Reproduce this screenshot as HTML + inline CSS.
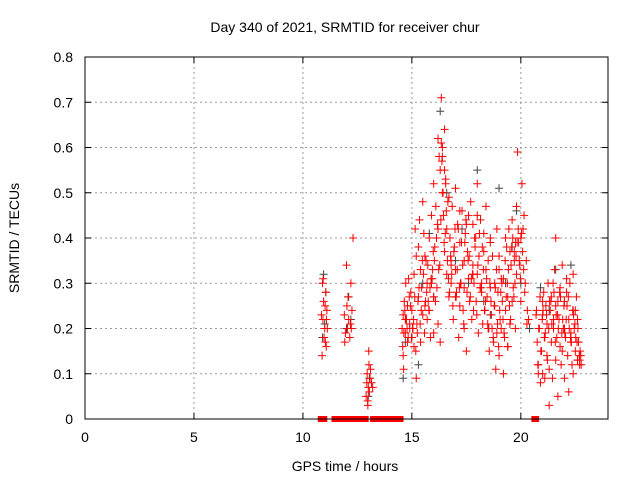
<!DOCTYPE html>
<html><head><meta charset="utf-8"><style>
body{margin:0;background:#fff;}
svg{display:block;font-family:"Liberation Sans",sans-serif;}
</style></head><body>
<svg id="chart" width="640" height="480" viewBox="0 0 640 480">
<rect width="640" height="480" fill="#fff"/>
<text x="345" y="32" font-size="14" text-anchor="middle">Day 340 of 2021, SRMTID for receiver chur</text>
<text x="345" y="471" font-size="14" text-anchor="middle">GPS time / hours</text>
<text transform="translate(19,238) rotate(-90)" font-size="14" text-anchor="middle">SRMTID / TECUs</text>
<g id="grid"></g>
<g id="ticks"></g>
<g id="gray"></g>
<g id="red"></g>
<rect x="85" y="57" width="523" height="362" fill="none" stroke="#000" stroke-width="1"/>
</svg>
<script>
const xTicks=[0,5,10,15,20];
const yTicks=[0,0.1,0.2,0.3,0.4,0.5,0.6,0.7,0.8];
const yTickLabels=["0","0.1","0.2","0.3","0.4","0.5","0.6","0.7","0.8"];
const zeroTimes=[10.82,10.9,10.98,11.45,11.52,11.6,11.68,11.76,11.84,11.92,12.0,12.08,12.16,12.32,12.4,12.48,12.56,12.72,12.8,12.88,13.22,13.3,13.38,13.46,13.54,13.62,13.7,13.78,13.86,14.02,14.1,14.18,14.26,14.34,14.42,14.48,20.62,20.7];
const redTimes=[10.85,10.9,10.92,10.95,10.97,11.0,11.02,11.05,11.07,11.1,11.12,10.88,10.93,11.03,11.08,
11.9,11.95,12.0,12.02,12.05,12.1,12.15,12.2,12.25,12.3,11.92,12.07,12.18,12.22,
12.9,12.93,12.95,12.97,13.0,13.02,13.05,13.08,13.1,13.15,13.2,12.98,13.03,
14.55,14.6,14.6,14.62,14.65,14.7,14.72,14.75,14.8,14.8,14.85,14.9,14.95,15.0,15.0,15.05,15.1,15.1,15.15,15.2,15.25,15.3,15.3,15.35,15.4,15.45,15.5,15.5,15.55,15.6,15.65,15.7,15.7,15.75,15.8,15.85,15.9,15.9,15.95,16.0,16.0,16.05,16.1,16.15,16.2,16.2,16.25,16.3,16.35,16.4,16.4,16.45,16.5,16.5,16.55,16.6,16.6,16.65,16.7,16.75,16.8,16.8,16.85,16.9,16.95,17.0,17.0,17.05,17.1,17.15,17.2,17.2,17.25,17.3,17.35,17.4,17.4,17.45,17.5,17.55,17.6,17.6,17.65,17.7,17.75,17.8,17.8,17.85,17.9,17.95,18.0,18.0,18.05,18.1,18.15,18.2,18.2,18.25,18.3,18.35,18.4,18.4,18.45,18.5,18.55,18.6,18.6,18.65,18.7,18.75,18.8,18.8,18.85,18.9,18.95,19.0,19.0,19.05,19.1,19.15,19.2,19.2,19.25,19.3,19.35,19.4,19.4,19.45,19.5,19.55,19.6,19.6,19.65,19.7,19.75,19.8,19.8,19.85,19.9,19.95,20.0,20.0,20.05,20.1,20.15,20.2,20.25,20.3,20.35,
16.3,16.35,16.4,16.5,16.55,16.7,17.2,17.5,18.3,18.6,19.0,19.3,19.5,19.7,19.75,15.2,15.6,16.0,16.8,17.8,18.0,18.9,19.1,14.7,14.9,15.4,15.8,16.2,17.0,17.4,18.5,19.4,
20.7,20.75,20.8,20.85,20.9,20.95,21.0,21.0,21.05,21.1,21.15,21.2,21.2,21.25,21.3,21.35,21.4,21.4,21.45,21.5,21.55,21.6,21.6,21.65,21.7,21.75,21.8,21.8,21.85,21.9,21.95,22.0,22.0,22.05,22.1,22.15,22.2,22.2,22.25,22.3,22.35,22.4,22.4,22.45,22.5,22.55,22.6,22.6,22.65,22.7,22.75,20.8,21.0,21.3,21.5,21.7,21.9,22.1,22.3,22.5,22.7,21.1,21.6,22.0,22.4,
14.58,14.68,14.78,14.88,14.98,15.08,15.18,15.28,15.38,15.48,15.58,15.68,15.78,15.88,15.98,16.08,16.18,16.28,16.38,16.48,16.58,16.68,16.78,16.88,16.98,17.08,17.18,17.28,17.38,17.48,17.58,17.68,17.78,17.88,17.98,18.08,18.18,18.28,18.38,18.48,18.58,18.68,18.78,18.88,18.98,19.08,19.18,19.28,19.38,19.48,19.58,19.68,19.78,19.88,19.98,20.08,20.18,20.28,
14.63,14.73,14.83,14.93,15.03,15.13,15.23,15.33,15.43,15.53,15.63,15.73,15.83,15.93,16.03,16.13,16.23,16.33,16.43,16.53,16.63,16.73,16.83,16.93,17.03,17.13,17.23,17.33,17.43,17.53,17.63,17.73,17.83,17.93,18.03,18.13,18.23,18.33,18.43,18.53,18.63,18.73,18.83,18.93,19.03,19.13,19.23,19.33,19.43,19.53,19.63,19.73,19.83,19.93,20.03,20.13,
20.72,20.82,20.92,21.02,21.12,21.22,21.32,21.42,21.52,21.62,21.72,21.82,21.92,22.02,22.12,22.22,22.32,22.42,22.52,22.62,22.72,22.77,22.68,22.58,22.48,22.38,22.28,22.18,22.08,21.98,21.88,21.78,21.68,21.58,21.48,21.38,21.28,21.18,21.08,20.98,20.88,20.78];
const redValues=[0.23,0.3,0.22,0.26,0.18,0.2,0.25,0.28,0.16,0.24,0.2,0.14,0.31,0.17,0.22,
0.23,0.19,0.34,0.25,0.2,0.22,0.18,0.3,0.24,0.4,0.17,0.27,0.21,0.2,
0.05,0.08,0.1,0.04,0.07,0.15,0.06,0.09,0.11,0.08,0.07,0.03,0.12,
0.2,0.14,0.23,0.11,0.26,0.19,0.3,0.22,0.17,0.25,0.31,0.21,0.28,0.18,0.24,0.2,0.32,0.16,0.42,0.09,0.19,0.38,0.27,0.44,0.33,0.29,0.23,0.48,0.41,0.36,0.35,0.22,0.3,0.26,0.4,0.18,0.45,0.3,0.33,0.19,0.52,0.38,0.47,0.29,0.62,0.42,0.58,0.55,0.71,0.6,0.5,0.45,0.64,0.37,0.53,0.42,0.32,0.48,0.27,0.4,0.35,0.3,0.47,0.22,0.38,0.51,0.33,0.28,0.43,0.18,0.39,0.25,0.3,0.46,0.24,0.2,0.35,0.41,0.15,0.37,0.31,0.45,0.26,0.48,0.22,0.34,0.43,0.3,0.38,0.26,0.52,0.32,0.19,0.41,0.44,0.28,0.3,0.21,0.37,0.24,0.33,0.47,0.27,0.35,0.15,0.4,0.29,0.23,0.36,0.17,0.3,0.25,0.11,0.19,0.28,0.14,0.33,0.22,0.2,0.26,0.1,0.31,0.18,0.24,0.38,0.27,0.16,0.42,0.21,0.34,0.26,0.44,0.29,0.37,0.2,0.47,0.32,0.59,0.39,0.34,0.4,0.26,0.52,0.42,0.45,0.3,0.35,0.24,0.22,0.17,
0.61,0.58,0.55,0.52,0.49,0.46,0.43,0.41,0.39,0.36,0.4,0.37,0.35,0.39,0.36,0.25,0.27,0.34,0.32,0.45,0.42,0.31,0.22,0.2,0.17,0.24,0.21,0.27,0.29,0.2,0.16,0.23,
0.17,0.12,0.2,0.08,0.15,0.23,0.1,0.28,0.18,0.25,0.14,0.21,0.3,0.11,0.24,0.17,0.27,0.09,0.2,0.33,0.13,0.25,0.18,0.05,0.22,0.29,0.16,0.12,0.34,0.2,0.26,0.09,0.18,0.28,0.14,0.22,0.06,0.3,0.17,0.12,0.24,0.1,0.2,0.15,0.27,0.13,0.22,0.17,0.12,0.14,0.1,0.26,0.03,0.22,0.26,0.15,0.31,0.19,0.24,0.13,0.09,0.4,0.2,0.32,0.16,
0.24,0.2,0.27,0.18,0.22,0.15,0.26,0.21,0.35,0.19,0.28,0.24,0.31,0.37,0.26,0.43,0.34,0.57,0.39,0.46,0.31,0.36,0.25,0.42,0.33,0.29,0.39,0.21,0.44,0.35,0.27,0.32,0.4,0.23,0.36,0.29,0.33,0.26,0.21,0.3,0.2,0.25,0.33,0.16,0.28,0.22,0.35,0.3,0.25,0.38,0.27,0.36,0.42,0.31,0.37,0.28,0.21,0.19,
0.22,0.18,0.25,0.2,0.27,0.21,0.29,0.24,0.32,0.26,0.34,0.29,0.31,0.35,0.4,0.33,0.44,0.5,0.41,0.35,0.28,0.32,0.37,0.27,0.42,0.3,0.34,0.39,0.28,0.36,0.31,0.24,0.4,0.34,0.29,0.38,0.24,0.31,0.2,0.26,0.18,0.29,0.21,0.24,0.3,0.19,0.27,0.33,0.22,0.4,0.3,0.39,0.35,0.41,0.33,0.24,
0.2,0.15,0.24,0.19,0.13,0.26,0.21,0.28,0.23,0.2,0.27,0.22,0.19,0.25,0.2,0.17,0.23,0.18,0.2,0.15,0.12,0.14,0.17,0.21,0.24,0.18,0.27,0.22,0.25,0.19,0.28,0.23,0.17,0.3,0.26,0.2,0.23,0.18,0.22,0.27,0.12,0.25];
const grayTimes=[10.9,10.95,11.0,11.05,12.0,12.1,12.2,13.0,13.05,14.6,14.7,15.0,15.3,15.5,15.8,16.0,16.3,16.6,17.0,17.3,17.6,18.0,18.3,18.6,19.0,19.3,19.6,19.8,20.0,20.4,20.9,21.3,21.6,22.0,22.3,22.6];
const grayValues=[0.18,0.32,0.21,0.28,0.2,0.27,0.22,0.05,0.09,0.09,0.17,0.18,0.12,0.3,0.41,0.27,0.68,0.5,0.35,0.42,0.3,0.55,0.26,0.23,0.51,0.3,0.38,0.46,0.3,0.2,0.29,0.24,0.33,0.2,0.34,0.13];

const X0=85,X1=608,Y0=419,Y1=57;
const xs=t=>X0+t*(X1-X0)/24;
const ys=v=>Y0-v*(Y0-Y1)/0.8;
const NS="http://www.w3.org/2000/svg";
function mk(tag,attrs,parent){const e=document.createElementNS(NS,tag);for(const k in attrs)e.setAttribute(k,attrs[k]);parent.appendChild(e);return e;}
const grid=document.getElementById('grid'),ticks=document.getElementById('ticks');
xTicks.forEach(t=>{
  if(t>0){const g=mk('line',{x1:xs(t),x2:xs(t),y1:Y0,y2:Y1,stroke:'#999','stroke-dasharray':'2,3'},grid);
  
  }
  mk('line',{x1:xs(t),x2:xs(t),y1:Y0,y2:Y0-6,stroke:'#000'},ticks);
  mk('line',{x1:xs(t),x2:xs(t),y1:Y1,y2:Y1+6,stroke:'#000'},ticks);
  const l=mk('text',{x:xs(t),y:Y0+23,'font-size':14,'text-anchor':'middle'},ticks);l.textContent=t;
  
  
});
yTicks.forEach((v,i)=>{
  if(v>0&&v<0.8){const g=mk('line',{x1:X0,x2:X1,y1:ys(v),y2:ys(v),stroke:'#999','stroke-dasharray':'2,3'},grid);
  
  }
  mk('line',{x1:X0,x2:X0+6,y1:ys(v),y2:ys(v),stroke:'#000'},ticks);
  mk('line',{x1:X1,x2:X1-6,y1:ys(v),y2:ys(v),stroke:'#000'},ticks);
  const l=mk('text',{x:X0-12,y:ys(v)+5,'font-size':14,'text-anchor':'end'},ticks);l.textContent=yTickLabels[i];
  
  
});
function plus(g,t,v,c){const x=xs(t),y=ys(v);
  const p=mk('path',{d:`M${x-4},${y}h8M${x},${y-4}v8`,stroke:c,'stroke-width':1,fill:'none'},g);
  
  }
const gg=document.getElementById('gray'),rg=document.getElementById('red');
grayTimes.forEach((t,i)=>plus(gg,t,grayValues[i],'#444'));
redTimes.forEach((t,i)=>plus(rg,t,redValues[i],'#f00'));
zeroTimes.forEach(t=>{const r=mk('rect',{x:xs(t)-3,y:Y0-3,width:6,height:6,fill:'#f00'},rg);
  
  });
</script>
</body></html>
